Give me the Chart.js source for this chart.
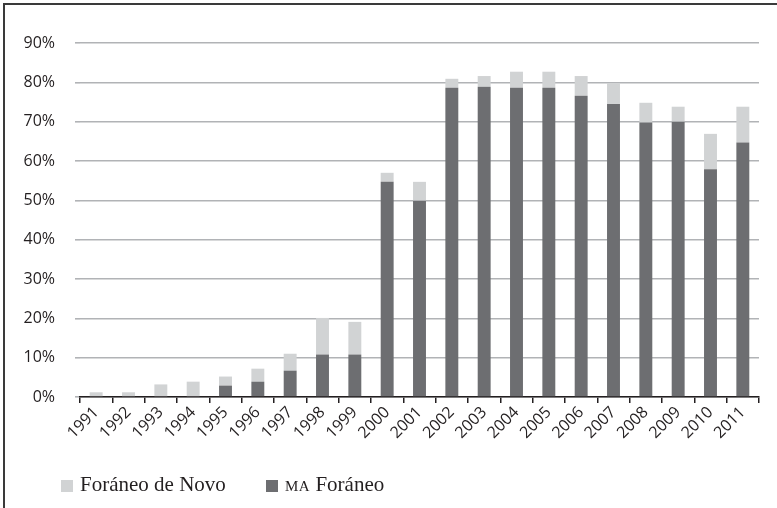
<!DOCTYPE html>
<html>
<head>
<meta charset="utf-8">
<script src="https://cdn.jsdelivr.net/npm/chart.js@4.4.1/dist/chart.umd.min.js"></script>
<style>
    body { margin: 0; background: #fff; }
    #cornice { position: absolute; left: 3px; top: 3px; width: 820px; height: 620px;
               border-left: 2px solid #3a3a3a; border-top: 2px solid #3a3a3a; }
    #box { position: absolute; left: 0; top: 0; width: 777px; height: 508px; }
    .voce { position: absolute; top: 472px; font-family: "Liberation Serif", serif; font-size: 21px;
            color: #231f20; white-space: nowrap; line-height: 24px; }
    .quadro { display: inline-block; width: 12px; height: 12px; margin-right: 7px; vertical-align: -1px; }
    .sc { font-size: 15px; letter-spacing: 0.5px; }
</style>
</head>
<body>
<div id="cornice"></div>
<div id="box"><canvas id="grafico" width="777" height="508"></canvas></div>
<div class="voce" style="left:61px"><span class="quadro" style="background:#d1d3d4"></span>Foráneo de Novo</div>
<div class="voce" style="left:266px"><span class="quadro" style="background:#6d6e71"></span><span class="sc">MA</span> Foráneo</div>
<script>
var anni = ['1991', '1992', '1993', '1994', '1995', '1996', '1997', '1998', '1999', '2000', '2001',
            '2002', '2003', '2004', '2005', '2006', '2007', '2008', '2009', '2010', '2011'];
// parte scura (MA Foráneo)
var maForaneo = [0, 0, 0, 0, 2.9, 3.9, 6.7, 10.8, 10.8, 54.7, 49.9,
                 78.6, 78.9, 78.6, 78.6, 76.6, 74.5, 69.8, 70, 57.9, 64.7];
// parte chiara sopra (Foráneo de Novo)
var deNovo = [1.2, 1.2, 3.2, 3.9, 2.3, 3.3, 4.3, 9.3, 8.3, 2.3, 4.8,
              2.3, 2.7, 4.1, 4.1, 5.0, 5.3, 5.0, 3.8, 9.0, 9.1];
var etichetteY = ['0%', '10%', '20%', '30%', '40%', '50%', '60%', '70%', '80%', '90%'];

var ctx = document.getElementById('grafico');
var chart = new Chart(ctx, {
    type: 'bar',
    data: {
        labels: anni,
        datasets: [{
            label: 'MA Foráneo',
            data: maForaneo,
            backgroundColor: '#6d6e71'
        }, {
            label: 'Foráneo de Novo',
            data: deNovo,
            backgroundColor: '#d1d3d4'
        }]
    },
    options: {
        responsive: false,
        animation: false,
        barPercentage: 0.4,
        categoryPercentage: 1,
        layout: { padding: { top: 43, right: 18, bottom: 50, left: 0 } },
        plugins: { legend: { display: false }, tooltip: { enabled: false } },
        scales: {
            x: {
                stacked: true,
                grid: { offset: true, drawOnChartArea: false, tickLength: 6, color: '#231f20', lineWidth: 1.5 },
                border: { color: '#231f20', width: 1.5 },
                ticks: { autoSkip: false, minRotation: 45, maxRotation: 45, padding: 0, color: '#231f20',
                         font: { family: 'Open Sans', size: 16 } },
                afterFit: function (scale) { scale.height = 61; }
            },
            y: {
                stacked: true,
                min: 0,
                max: 90,
                grid: { color: '#b1b3b6', lineWidth: 1.6, tickLength: 5 },
                border: { display: false },
                ticks: {
                    stepSize: 10, padding: 20, color: '#231f20',
                    font: { family: 'Open Sans', size: 16 },
                    callback: function (v) { return etichetteY[Math.round(v / 10)]; }
                },
                afterFit: function (scale) { scale.width = 80; }
            }
        }
    }
});
</script>
</body>
</html>
